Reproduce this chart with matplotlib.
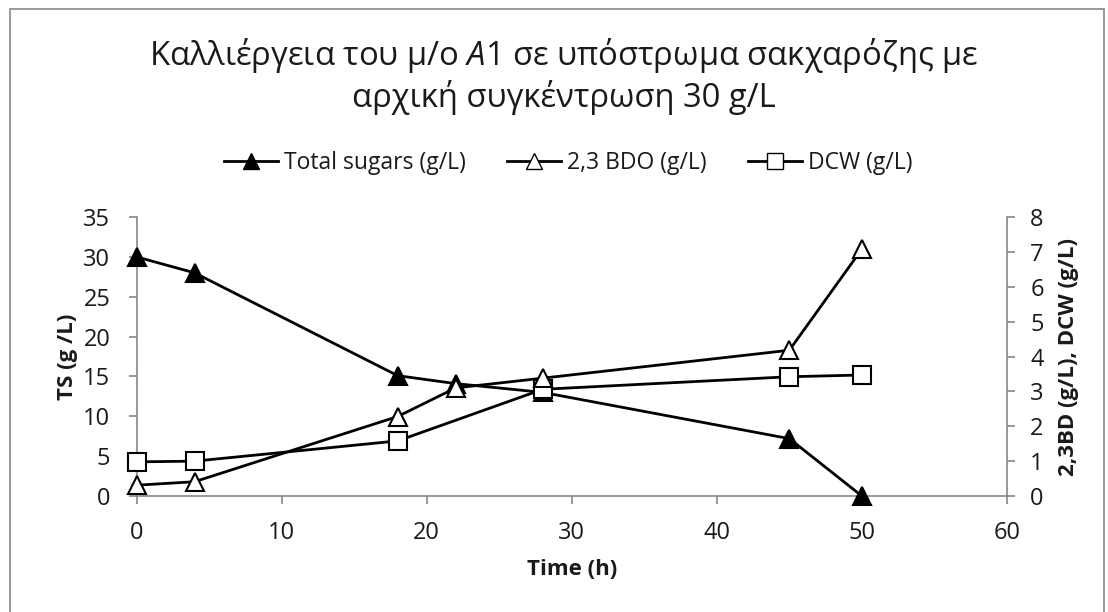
import matplotlib.pyplot as plt
from matplotlib.patches import Rectangle
from matplotlib.lines import Line2D

plt.rcParams['font.family'] = ['Open Sans', 'DejaVu Sans']
plt.rcParams['mathtext.fontset'] = 'custom'
plt.rcParams['mathtext.it'] = 'Open Sans:italic'
plt.rcParams['mathtext.rm'] = 'Open Sans'

# fermentation data
ts_time = [0, 4, 18, 22, 28, 45, 50]
ts_vals = [30, 28, 15.1, 14.1, 13.0, 7.2, 0]

bdo_time = [0, 4, 18, 22, 28, 45, 50]
bdo_vals = [0.31, 0.41, 2.28, 3.1, 3.38, 4.18, 7.08]

dcw_time = [0, 4, 18, 28, 45, 50]
dcw_vals = [0.98, 1.0, 1.58, 3.06, 3.42, 3.47]

grey = '#878787'
txt = '#1a1a1a'

fig = plt.figure(figsize=(11.08, 6.12), dpi=100)
fig.patches.append(Rectangle((0.009, -0.05), 0.987, 1.036, transform=fig.transFigure,
                             fill=False, edgecolor=grey, linewidth=1.2))

ax = fig.add_axes([0.1232, 0.1895, 0.7856, 0.4559])
ax2 = ax.twinx()

line_kw = dict(color='black', linewidth=2.0, markersize=13, markeredgewidth=1.5,
               markeredgecolor='black', clip_on=False)
ax.plot(ts_time, ts_vals, marker='^', markerfacecolor='black', zorder=5, **line_kw)
ax2.plot(bdo_time, bdo_vals, marker='^', markerfacecolor='white', zorder=4, **line_kw)
ax2.plot(dcw_time, dcw_vals, marker='s', markerfacecolor='white', zorder=3, **line_kw)

ax.set_xlim(0, 60)
ax.set_ylim(0, 35)
ax2.set_ylim(0, 8)
ax.set_xticks(range(0, 61, 10))
ax.set_yticks(range(0, 36, 5))
ax2.set_yticks(range(0, 9))

for a in (ax, ax2):
    a.spines['top'].set_visible(False)
    for s in ('left', 'right', 'bottom'):
        a.spines[s].set_color(grey)
        a.spines[s].set_linewidth(1.2)
    a.tick_params(colors=grey, labelcolor=txt, labelsize=17, length=5.8, width=1.2)
ax.tick_params(axis='x', pad=12)
ax.tick_params(axis='y', pad=13)
ax2.tick_params(axis='y', pad=11)
ax2.set_zorder(ax.get_zorder() + 1)
ax2.patch.set_visible(False)
ax2.spines['left'].set_visible(False)
ax2.spines['bottom'].set_visible(False)
ax.spines['right'].set_visible(False)

ax.set_xlabel('Time (h)', fontsize=16, fontweight='bold', color=txt, labelpad=10)
ax.set_ylabel('TS (g /L)', fontsize=16, fontweight='bold', color=txt, labelpad=4)
ax2.set_ylabel('2,3BD (g/L), DCW (g/L)', fontsize=16, fontweight='bold', color=txt,
               labelpad=10)

fig.text(0.509, 1 - 65 / 612, 'Καλλιέργεια του μ/ο $\\mathit{A1}$ σε υπόστρωμα σακχαρόζης με',
         ha='center', va='baseline', fontsize=23.6, color=txt)
fig.text(0.509, 1 - 107 / 612, 'αρχική συγκέντρωση 30 g/L',
         ha='center', va='baseline', fontsize=23.6, color=txt)

handles = [
    Line2D([], [], color='black', lw=2, marker='^', ms=11, mfc='black', mec='black'),
    Line2D([], [], color='black', lw=2, marker='^', ms=11, mfc='white', mec='black'),
    Line2D([], [], color='black', lw=2, marker='s', ms=11, mfc='white', mec='black'),
]
labels = ['Total sugars (g/L)', '2,3 BDO (g/L)', 'DCW (g/L)']
fig.legend(handles, labels, loc='center', bbox_to_anchor=(568 / 1108, 1 - 163 / 612), ncol=3,
           frameon=False, fontsize=16.5, handlelength=2.36, handletextpad=0.26,
           columnspacing=1.8, labelcolor=txt, borderpad=0, borderaxespad=0)

fig.savefig('out.png', dpi=100)
